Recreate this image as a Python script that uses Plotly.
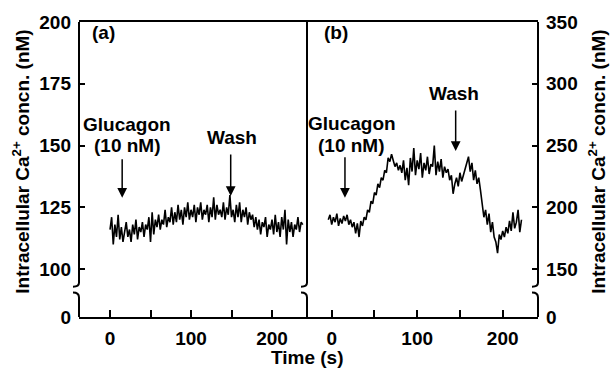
import plotly.graph_objects as go

# ---- recorded traces -------------------------------------------------------
# (a) glucagon 10 nM, left scale; samples every 2 s from t = 0 s
time_a = list(range(0, 240, 2))
ca_a = [
    116, 121, 110, 118, 113, 122, 112, 117, 111, 115,
    119, 113, 116, 111, 118, 114, 120, 112, 117, 115,
    119, 113, 118, 116, 121, 111, 123, 114, 120, 117,
    122, 116, 120, 118, 124, 117, 121, 119, 125, 118,
    123, 119, 126, 120, 124, 118, 125, 121, 127, 120,
    124, 121, 126, 119, 125, 122, 127, 120, 124, 122,
    126, 119, 125, 121, 129, 120, 126, 122, 124, 121,
    127, 120, 125, 122, 130, 121, 124, 119, 126, 121,
    127, 119, 124, 121, 125, 118, 123, 120, 122, 117,
    121, 116, 120, 114, 119, 117, 121, 113, 118, 116,
    120, 114, 122, 115, 119, 113, 121, 116, 124, 110,
    120, 115, 119, 113, 118, 116, 121, 115, 119, 118,
]

# (b) glucagon 10 nM, right scale; samples every 2 s from t = -4 s
time_b = list(range(-4, 224, 2))
ca_b = [
    190, 194, 186, 192, 188, 195, 185, 191, 187, 193,
    189, 194, 186, 190, 184, 188, 179, 187, 176, 189,
    185, 192, 190, 198, 196, 205, 203, 212, 210, 219,
    216, 224, 222, 230, 228, 240, 237, 243, 238, 233,
    236, 230, 234, 228, 238, 222, 232, 218, 240, 229,
    248, 226, 238, 231, 244, 224, 236, 230, 241, 227,
    235, 233, 250, 226, 237, 229, 239, 224, 233, 228,
    231, 222, 226, 211, 219, 224, 217, 228, 221, 226,
    232, 238, 241, 229, 236, 222, 230, 219, 224, 214,
    200, 192, 198, 186, 195, 180, 188, 176, 172, 163,
    178, 174, 181, 176, 184, 179, 189, 181, 196, 183,
    188, 198, 180, 190,
]

# ---- axis ticks --------------------------------------------------------------
x_ticks = [0, 50, 100, 150, 200]
x_ticktext = ["<b>0</b>", "", "<b>100</b>", "", "<b>200</b>"]
ya_ticks = [100, 125, 150, 175, 200]
yb_ticks = [150, 200, 250, 300, 350]
ya_zero = 80.6   # where the broken left scale shows "0"
yb_zero = 111.3  # where the broken right scale shows "0"

# ---- page geometry -------------------------------------------------------------
W, H = 611, 372
ML, MR, MT, MB = 79, 73, 15, 55
PW, PH = W - ML - MR, H - MT - MB
split_px = 307
split = (split_px - ML) / PW

FONT = "Liberation Sans, Arial, Helvetica, sans-serif"
INK = "black"
LW = 2


def px(x):
    return (x - ML) / PW


def py(y):
    return (H - MB - y) / PH


def broken_line(xp, top=MT, bottom=H - MB, b1=283, b2=292, hook=6):
    """Vertical axis line with a '{' style scale break, in paper units."""
    upper = (f"M {px(xp)} {py(top)} L {px(xp)} {py(b1 - 1)} "
             f"Q {px(xp)} {py(b1 + 3)} {px(xp - hook)} {py(b1 + 3)}")
    lower = (f"M {px(xp - hook)} {py(b2)} "
             f"Q {px(xp)} {py(b2)} {px(xp)} {py(b2 + 5)} L {px(xp)} {py(bottom)}")
    return [
        dict(type="path", path=p, xref="paper", yref="paper",
             line=dict(color=INK, width=LW))
        for p in (upper, lower)
    ]


def bold_labels(vals):
    return [f"<b>{v}</b>" for v in vals]


fig = go.Figure()
fig.add_trace(go.Scatter(x=time_a, y=ca_a, mode="lines", xaxis="x", yaxis="y",
                         line=dict(color=INK, width=1.6), showlegend=False))
fig.add_trace(go.Scatter(x=time_b, y=ca_b, mode="lines", xaxis="x2", yaxis="y2",
                         line=dict(color=INK, width=1.6), showlegend=False))

tickfont = dict(family=FONT, size=19, color=INK)
xcommon = dict(tickvals=x_ticks, ticktext=x_ticktext, ticks="inside", ticklen=7,
               tickwidth=LW, tickcolor=INK, showline=True, linecolor=INK,
               linewidth=LW, mirror=True, showgrid=False, zeroline=False,
               tickfont=tickfont, ticklabelstandoff=3)
ycommon = dict(ticks="inside", ticklen=6, tickwidth=LW, tickcolor=INK,
               showline=False, showgrid=False, zeroline=False, tickfont=tickfont,
               ticklabelstandoff=7)

# the three broken verticals of the frame (top and bottom come from the x axes)
shapes = []
shapes += broken_line(ML)
shapes += broken_line(split_px)
shapes += broken_line(W - MR)

lab = dict(family=FONT, size=19, color=INK)


def label(text, x, y, xref, yref, shift=4):
    return dict(text=f"<b>{text}</b>", x=x, y=y, xref=xref, yref=yref,
                showarrow=False, xanchor="center", yanchor="middle", yshift=shift,
                font=lab)


def arrow(x, y, xref, yref, length):
    return dict(text="", x=x, y=y, xref=xref, yref=yref, ax=0, ay=-length,
                showarrow=True, arrowhead=2, arrowsize=1.3, arrowwidth=1.5,
                arrowcolor=INK)


annotations = [
    label("(a)", -7.9, 192.9, "x", "y", shift=7),
    label("(b)", 5, 335.8, "x2", "y2", shift=7),
    label("Glucagon", 21, 156.9, "x", "y"),
    label("(10 nM)", 21, 148.2, "x", "y"),
    label("Wash", 150.6, 151.8, "x", "y"),
    label("Glucagon", 23.7, 264.6, "x2", "y2"),
    label("(10 nM)", 23.7, 247.2, "x2", "y2"),
    label("Wash", 143, 289.1, "x2", "y2"),
    # arrows marking additions
    arrow(15, 128.9, "x", "y", 40),
    arrow(149, 129.6, "x", "y", 43),
    arrow(15.5, 207.7, "x2", "y2", 42),
    arrow(145, 245.6, "x2", "y2", 42),
]
# axis titles
for xp in (21, 597):
    annotations.append(dict(
        text="<b>Intracellular Ca<sup>2+</sup> concn. (nM)</b>", x=px(xp), y=py(158),
        xref="paper", yref="paper", textangle=-90, showarrow=False,
        xanchor="center", yanchor="middle", font=lab))
annotations.append(dict(
    text="<b>Time (s)</b>", x=px(307.5), y=py(358), xref="paper", yref="paper",
    showarrow=False, xanchor="center", yanchor="middle", font=lab))

fig.update_layout(
    width=W, height=H,
    margin=dict(l=ML, r=MR, t=MT, b=MB),
    paper_bgcolor="white", plot_bgcolor="white",
    xaxis=dict(domain=[0, split], range=[-38.3, 243.2], anchor="y", **xcommon),
    xaxis2=dict(domain=[split, 1], range=[-28.9, 241.3], anchor="y2", **xcommon),
    yaxis=dict(domain=[0, 1], range=[ya_zero, 200], anchor="x",
               tickvals=[ya_zero] + ya_ticks,
               ticktext=bold_labels(["0"] + ya_ticks), **ycommon),
    yaxis2=dict(domain=[0, 1], range=[yb_zero, 350], anchor="x2", side="right",
                tickvals=[yb_zero] + yb_ticks,
                ticktext=bold_labels(["0"] + yb_ticks), **ycommon),
    shapes=shapes,
    annotations=annotations,
)

fig.write_html("out.html")
